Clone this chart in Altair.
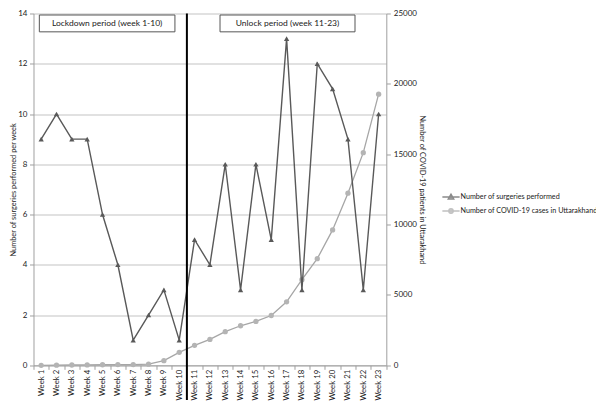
import altair as alt
import pandas as pd

FONT = "Lato"

weeks = list(range(1, 24))
surgeries = [9, 10, 9, 9, 6, 4, 1, 2, 3, 1, 5, 4, 8, 3, 8, 5, 13, 3, 12, 11, 9, 3, 10]
covid_cases = [0, 10, 20, 30, 40, 50, 50, 80, 330, 920, 1420, 1840, 2390, 2810, 3120,
               3540, 4510, 6080, 7580, 9620, 12230, 15110, 19270]

series_names = ["Number of surgeries performed", "Number of COVID-19 cases in Uttarakhand"]
series_colors = ["#595959", "#a6a6a6"]
left_ticks = [0, 2, 4, 6, 8, 10, 12, 14]
right_ticks = [0, 5000, 10000, 15000, 20000, 25000]
x_tick_values = [k / 2 for k in range(1, 48)]

period_labels = ["Lockdown period (week 1-10)", "Unlock period (week 11-23)"]
period_start = [0.88, 12.66]
period_end = [9.72, 21.46]
period_top = [13.94, 13.94]
period_bottom = [13.27, 13.27]
divider_at = [10.5]
divider_top = [14]
divider_bottom = [-1.38]

df = pd.DataFrame({"week": weeks, "surgeries": surgeries, "covid": covid_cases})
boxes = pd.DataFrame({
    "label": period_labels,
    "x0": period_start, "x1": period_end,
    "y0": period_bottom, "y1": period_top,
})
boxes["xc"] = (boxes["x0"] + boxes["x1"]) / 2
boxes["yc"] = (boxes["y0"] + boxes["y1"]) / 2
divider = pd.DataFrame({"xd": divider_at, "yt": divider_top, "yb": divider_bottom})
legend_df = pd.DataFrame({"series": series_names})

xscale = alt.Scale(domain=[0.5, 23.5], nice=False, zero=False)
xaxis = alt.Axis(
    values=x_tick_values,
    labelExpr="datum.value % 1 === 0 ? 'Week ' + datum.value : ''",
    labelAngle=-90, labelAlign="right", labelBaseline="middle",
    tickOpacity={"condition": {"test": "datum.value % 1 === 0", "value": 0}, "value": 1},
    tickSize=4, labelPadding=0, grid=False, title=None,
    labelOverlap=False, labelFlush=False,
    domainColor="#a0a0a0", tickColor="#a0a0a0",
    labelFontSize=7.8, labelColor="#222222", labelFont=FONT,
)

left_scale = alt.Scale(domain=[0, 14], nice=False, zero=True)
right_scale = alt.Scale(domain=[0, 25000], nice=False, zero=True)

left_axis = alt.Axis(
    orient="left", values=left_ticks, grid=True, gridColor="#c4c4c4", gridWidth=1.2,
    domainColor="#a0a0a0", tickColor="#a0a0a0", tickSize=4, labelPadding=2.5,
    labelFontSize=8, labelColor="#222222", labelFont=FONT,
    title="Number of surgeries performed per week", titleFontSize=7.4,
    titleFontWeight="normal", titleColor="#222222", titleFont=FONT, titlePadding=0.5)
right_axis = alt.Axis(
    orient="right", values=right_ticks, grid=False, format="d",
    domainColor="#a0a0a0", tickColor="#a0a0a0", tickSize=4, labelPadding=3,
    labelFontSize=8, labelColor="#222222", labelFont=FONT,
    title="Number of COVID-19 patients in Uttarakhand", titleFontSize=7.4,
    titleFontWeight="normal", titleColor="#222222", titleFont=FONT, titlePadding=1)


def xq(field):
    return alt.X(field, type="quantitative", scale=xscale, axis=xaxis)


def yl(field):
    return alt.Y(field, type="quantitative", scale=left_scale, axis=left_axis)


base_s = alt.Chart(df)
s_line = base_s.mark_line(color=series_colors[0], strokeWidth=1.4).encode(
    x=xq("week"), y=yl("surgeries"))
s_pts = base_s.mark_point(shape="triangle-up", filled=True, size=28, opacity=1,
                          color=series_colors[0]).encode(x=xq("week"), y=yl("surgeries"))

box_rect = alt.Chart(boxes).mark_rect(fill="white", stroke="#555555", strokeWidth=1).encode(
    x=xq("x0"), x2="x1:Q", y=yl("y0"), y2="y1:Q")
box_text = alt.Chart(boxes).mark_text(font=FONT, fontSize=8.5, color="#222222").encode(
    x=xq("xc"), y=yl("yc"), text="label:N")
div_rule = alt.Chart(divider).mark_rule(color="black", strokeWidth=2).encode(
    x=xq("xd"), y=yl("yt"), y2="yb:Q")

surg_layer = alt.layer(s_line, s_pts, box_rect, box_text, div_rule)

base_c = alt.Chart(df)
c_y = alt.Y("covid:Q", scale=right_scale, axis=right_axis)
c_line = base_c.mark_line(color=series_colors[1], strokeWidth=1.3).encode(x=xq("week"), y=c_y)
c_pts = base_c.mark_circle(size=28, opacity=1, color="#b4b4b4").encode(x=xq("week"), y=c_y)
covid_layer = alt.layer(c_line, c_pts)

tri_path = "M-1.15,0L1.15,0M0,-0.4L0.38,0.28L-0.38,0.28Z"
circ_path = "M-1.15,0L1.15,0M0.3,0A0.3,0.3,0,1,1,-0.3,0A0.3,0.3,0,1,1,0.3,0Z"
leg = alt.Legend(orient="none", legendX=409, legendY=175, title=None,
                 labelFontSize=7.2, labelColor="#222222", labelFont=FONT, labelLimit=400,
                 symbolSize=225, symbolStrokeWidth=1.3, rowPadding=0, labelOffset=1)
legend_layer = alt.Chart(legend_df).transform_filter("false").mark_point(filled=False).encode(
    fill=alt.Fill("series:N", scale=alt.Scale(domain=series_names, range=series_colors), legend=leg),
    stroke=alt.Stroke("series:N", scale=alt.Scale(domain=series_names, range=series_colors), legend=leg),
    shape=alt.Shape("series:N", scale=alt.Scale(domain=series_names, range=[tri_path, circ_path]), legend=leg),
)

chart = alt.layer(covid_layer, surg_layer, legend_layer).resolve_scale(y="independent").properties(
    width=352.8, height=351.8,
    autosize=alt.AutoSizeParams(type="none"),
    padding={"left": 25.5, "top": 5.5, "right": 210, "bottom": 35.5},
    background="white",
).configure(font=FONT).configure_view(stroke=None)

chart.save("out.html", embed_options={"renderer": "svg", "actions": False})
